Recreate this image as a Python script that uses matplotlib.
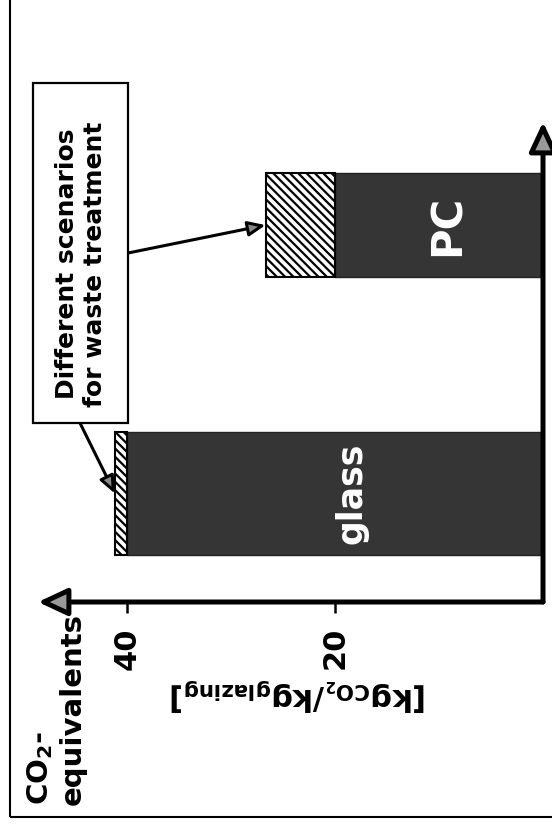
import matplotlib
matplotlib.use("Agg")
import matplotlib.pyplot as plt
from matplotlib.patches import Rectangle

categories = ["glass", "PC"]
production = [40, 20]          # solid dark part
waste_treatment = [1.2, 6.7]   # hatched part: range of waste scenarios
value_ticks = [40, 20]
tick_labels = ["40", "20"]

plt.rcParams["font.family"] = ["DejaVu Sans"]
plt.rcParams["font.weight"] = "bold"
plt.rcParams["mathtext.fontset"] = "dejavusans"
plt.rcParams["hatch.linewidth"] = 1.6

W, H = 552, 832
fig = plt.figure(figsize=(W / 100, H / 100), dpi=100)
fig.patch.set_facecolor("white")


def fx(px):
    return px / W


def fy(py):
    return 1 - py / H


# the whole chart is turned 90 deg: values run right-to-left, categories bottom-to-top
ax = fig.add_axes([fx(38), fy(602), fx(543) - fx(38), fy(122) - fy(602)])
ax.set_xlim(48.6, 0)
ax.set_ylim(-0.404, 1.384)
for s in ax.spines.values():
    s.set_visible(False)

ypos = list(range(len(categories)))
bar_h = [0.458, 0.387]
ax.barh(ypos, production, height=bar_h, color="#353535", edgecolor="#222222", lw=1)
totals = [p + w for p, w in zip(production, waste_treatment)]
ax.barh(ypos, waste_treatment, left=production, height=bar_h, color="white",
        edgecolor="black", hatch="\\\\\\\\", lw=1.5)

label_sizes = [25, 30]
for y, p, name, fs in zip(ypos, production, categories, label_sizes):
    ax.text(p * 0.46, y, name, rotation=90, color="white", fontsize=fs,
            fontweight="bold", ha="center", va="center")

# axes with arrow heads
arrow_kw = dict(arrowstyle="-|>,head_length=0.9,head_width=0.42", lw=3.6,
                fc="#999999", ec="black", mutation_scale=20,
                shrinkA=0, shrinkB=0)
ax.annotate("", xy=(0, 0), xytext=(1, 0), xycoords="axes fraction",
            arrowprops=arrow_kw, annotation_clip=False)
ax.annotate("", xy=(1, 1), xytext=(1, 0), xycoords="axes fraction",
            arrowprops=arrow_kw, annotation_clip=False)

ax.set_yticks([])
ax.set_xticks(value_ticks)
ax.set_xticklabels(tick_labels, rotation=90, fontsize=22, fontweight="bold")
ax.tick_params(axis="x", direction="out", length=8, width=1.8, pad=10)

# unit label (upside down because of the rotation)
fig.text(fx(298), fy(695),
         r"[kg$_{\mathbf{CO}_{\mathbf{2}}}$/kg$_{\mathbf{glazing}}$]",
         rotation=180, fontsize=22, fontweight="bold", ha="center", va="center")

fig.text(fx(25), fy(805), "CO$_\\mathbf{2}$-\nequivalents", rotation=90,
         fontsize=21, fontweight="bold", ha="left", va="bottom",
         multialignment="left")

# callout box
fig.patches.append(Rectangle((fx(33), fy(423)), fx(128) - fx(33), fy(83) - fy(423),
                             transform=fig.transFigure, fill=True, fc="white",
                             ec="black", lw=1.6))
fig.text(fx(81), fy(264), "Different scenarios\nfor waste treatment", rotation=90,
         fontsize=18, fontweight="bold", ha="center", va="center")

call_kw = dict(arrowstyle="-|>,head_length=0.7,head_width=0.3", lw=2.2,
               fc="#888888", ec="black", mutation_scale=15, shrinkA=0, shrinkB=0)
ax.annotate("", xy=(totals[1], ypos[1]), xytext=(fx(128), fy(253)),
            textcoords="figure fraction", arrowprops=call_kw)
ax.annotate("", xy=(totals[0], ypos[0]), xytext=(fx(80), fy(423)),
            textcoords="figure fraction", arrowprops=call_kw)

# scanned page frame (only left and bottom edges are in view)
fig.patches.append(Rectangle((fx(10), fy(817)), 2, 2, transform=fig.transFigure,
                             fill=False, ec="black", lw=1.5))

fig.savefig("out.png", dpi=100)
